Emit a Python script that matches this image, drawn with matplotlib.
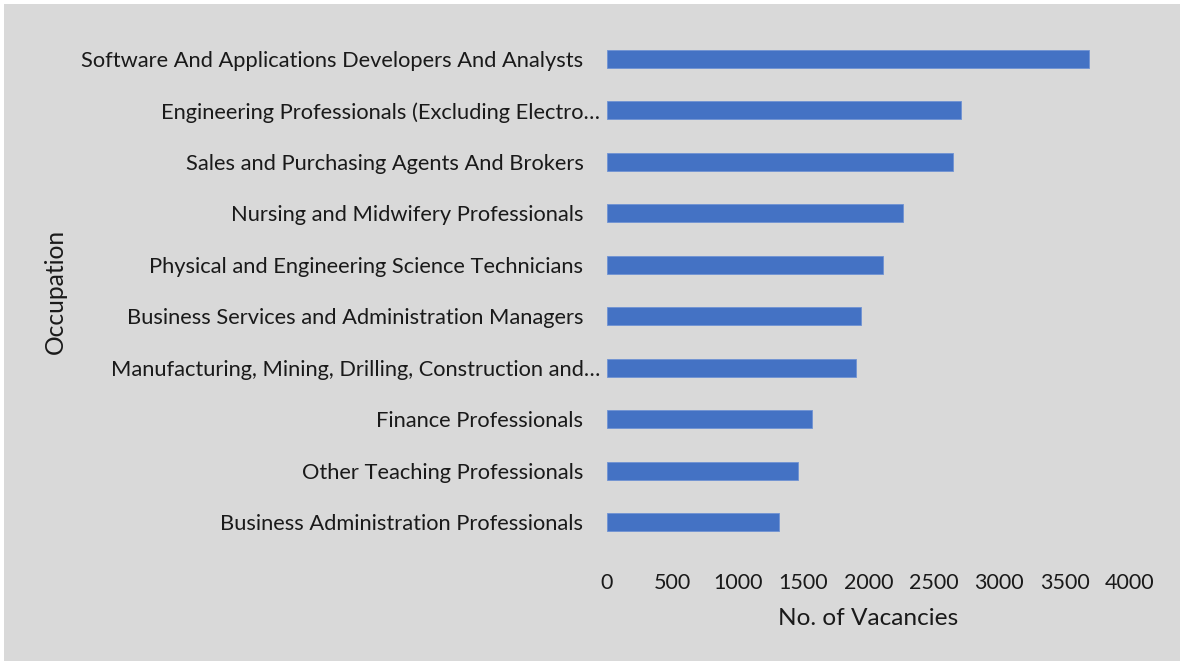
import matplotlib
matplotlib.use("Agg")
import matplotlib.pyplot as plt
from matplotlib.patches import Rectangle
from matplotlib.transforms import ScaledTranslation

occupations = [
    "Software And Applications Developers And Analysts",
    "Engineering Professionals (Excluding Electro…",
    "Sales and Purchasing Agents And Brokers",
    "Nursing and Midwifery Professionals",
    "Physical and Engineering Science Technicians",
    "Business Services and Administration Managers",
    "Manufacturing, Mining, Drilling, Construction and…",
    "Finance Professionals",
    "Other Teaching Professionals",
    "Business Administration Professionals",
]
vacancies = [3685, 2705, 2650, 2263, 2110, 1943, 1905, 1570, 1463, 1318]
xticks = [0, 500, 1000, 1500, 2000, 2500, 3000, 3500, 4000]

plt.rcParams['font.family'] = ['Lato', 'DejaVu Sans']
txt = '#1a1a1a'

W, H = 1182, 665
fig = plt.figure(figsize=(W / 100, H / 100), dpi=100)
fig.patch.set_facecolor('white')
fig.patches.append(Rectangle((4 / W, 4 / H), (1180 - 4) / W, (661 - 4) / H,
                             transform=fig.transFigure, facecolor='#d9d9d9',
                             edgecolor='none', zorder=-5))

ax = fig.add_axes([607 / W, 1 - 548 / H, (1130 - 607) / W, (548 - 33) / H])
ax.patch.set_alpha(0)

ypos = list(range(len(occupations)))
ax.barh(ypos, vacancies, height=0.35, color='#4472C4', edgecolor='#6f93d3', linewidth=0.6)
ax.set_ylim(len(occupations) - 0.5, -0.5)
ax.set_xlim(0, 4000)
ax.set_yticks(ypos)
ax.set_yticklabels(occupations, fontsize=15.75, color=txt)
ax.set_xticks(xticks)
ax.set_xticklabels([str(t) for t in xticks], fontsize=15.5, color=txt)
ax.tick_params(axis='y', length=0, pad=17)
ax.tick_params(axis='x', length=0, pad=18)
for s in ax.spines.values():
    s.set_visible(False)

# truncated labels sit closer to the axis
for lab in ax.get_yticklabels():
    if lab.get_text().endswith('…'):
        lab.set_transform(lab.get_transform() + ScaledTranslation(0.17, 0, fig.dpi_scale_trans))

ax.set_xlabel('No. of Vacancies', fontsize=17.6, color=txt, labelpad=11)
ax.set_ylabel('Occupation', fontsize=17.7, color=txt)
ax.yaxis.set_label_coords(67 / W, 1 - 291 / H, transform=fig.transFigure)

fig.savefig('out.png', dpi=100)
